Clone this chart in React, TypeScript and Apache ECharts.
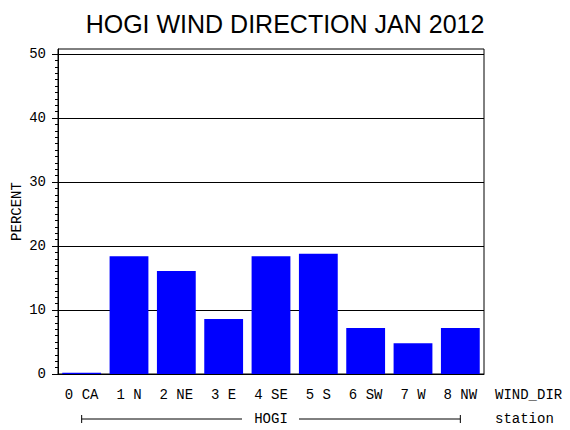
import React, { useEffect, useRef } from 'react';
import * as echarts from 'echarts';

// wind direction categories and percent of hours in each
const categories = ['0 CA', '1 N', '2 NE', '3 E', '4 SE', '5 S', '6 SW', '7 W', '8 NW'];
const percents = [0.2, 18.4, 16.1, 8.6, 18.4, 18.8, 7.2, 4.8, 7.2];
const yTicks = [0, 10, 20, 30, 40, 50];
const yMinorTicks = Array.from({ length: 51 }, (_, i) => i);

const FONT = 'Liberation Mono';

const App: React.FC = () => {
  const chartRef = useRef<HTMLDivElement>(null);

  useEffect(() => {
    document.body.style.margin = '0';
    const chart = echarts.init(chartRef.current!, undefined, { renderer: 'svg' });

    const options: any = {
      animation: false,
      backgroundColor: '#fff',
      title: {
        text: 'HOGI WIND DIRECTION JAN 2012',
        left: 'center',
        top: 6,
        textStyle: { fontFamily: 'Liberation Sans', fontSize: 25, fontWeight: 'normal', color: '#000' },
      },
      grid: {
        left: 58,
        right: 86,
        top: 49,
        bottom: 56,
        outerBoundsMode: 'none',
        containLabel: false,
        show: true,
        borderColor: '#000',
        borderWidth: 1,
      },
      xAxis: {
        type: 'category',
        data: categories,
        axisLine: { lineStyle: { color: '#000', width: 1 } },
        axisTick: { show: false },
        axisLabel: { color: '#000', fontFamily: FONT, fontSize: 14, margin: 14 },
      },
      yAxis: [
        {
          type: 'value',
          min: 0,
          max: 50.8,
          interval: 10,
          name: 'PERCENT',
          nameLocation: 'middle',
          nameGap: 34,
          nameMoveOverlap: false,
          nameTextStyle: { color: '#000', fontFamily: FONT, fontSize: 14 },
          axisLine: { show: true, lineStyle: { color: '#000', width: 1 } },
          axisTick: { show: true, length: 6, customValues: yTicks, lineStyle: { color: '#000' } },
          axisLabel: { color: '#000', fontFamily: FONT, fontSize: 14, margin: 12, customValues: yTicks },
          splitLine: { show: true, lineStyle: { color: '#000', width: 1 } },
        },
        {
          type: 'value',
          min: 0,
          max: 50.8,
          interval: 1,
          position: 'left',
          axisLine: { show: false },
          axisTick: { show: true, length: 3, customValues: yMinorTicks, lineStyle: { color: '#000' } },
          axisLabel: { show: false },
          splitLine: { show: false },
        },
      ],
      series: [
        {
          type: 'bar',
          data: percents,
          barWidth: '82%',
          itemStyle: { color: '#0000ff' },
        },
      ],
    };

    chart.setOption(options);

    // station bracket under the category labels
    const x0 = chart.convertToPixel({ xAxisIndex: 0 }, categories[0]) as number;
    const x1 = chart.convertToPixel({ xAxisIndex: 0 }, categories[categories.length - 1]) as number;
    const mid = (x0 + x1) / 2;
    const yb = 419;
    const yl = 395;
    const black = { stroke: '#000', lineWidth: 1 };
    chart.setOption({
      graphic: [
        { type: 'line', shape: { x1: x0, y1: yb, x2: mid - 29, y2: yb }, style: black, silent: true },
        { type: 'line', shape: { x1: mid + 28, y1: yb, x2: x1, y2: yb }, style: black, silent: true },
        { type: 'line', shape: { x1: x0, y1: yb - 4, x2: x0, y2: yb + 4 }, style: black, silent: true },
        { type: 'line', shape: { x1: x1, y1: yb - 4, x2: x1, y2: yb + 4 }, style: black, silent: true },
        {
          type: 'text', x: mid, y: yb,
          style: { text: 'HOGI', fontFamily: FONT, fontSize: 14, fill: '#000', align: 'center', verticalAlign: 'middle' },
        },
        {
          type: 'text', x: 495, y: yl,
          style: { text: 'WIND_DIR', fontFamily: FONT, fontSize: 14, fill: '#000', align: 'left', verticalAlign: 'middle' },
        },
        {
          type: 'text', x: 495, y: yb,
          style: { text: 'station', fontFamily: FONT, fontSize: 14, fill: '#000', align: 'left', verticalAlign: 'middle' },
        },
      ],
    });

    return () => {
      chart.dispose();
    };
  }, []);

  return <div ref={chartRef} style={{ width: '570px', height: '430px' }} />;
};

export default App;
